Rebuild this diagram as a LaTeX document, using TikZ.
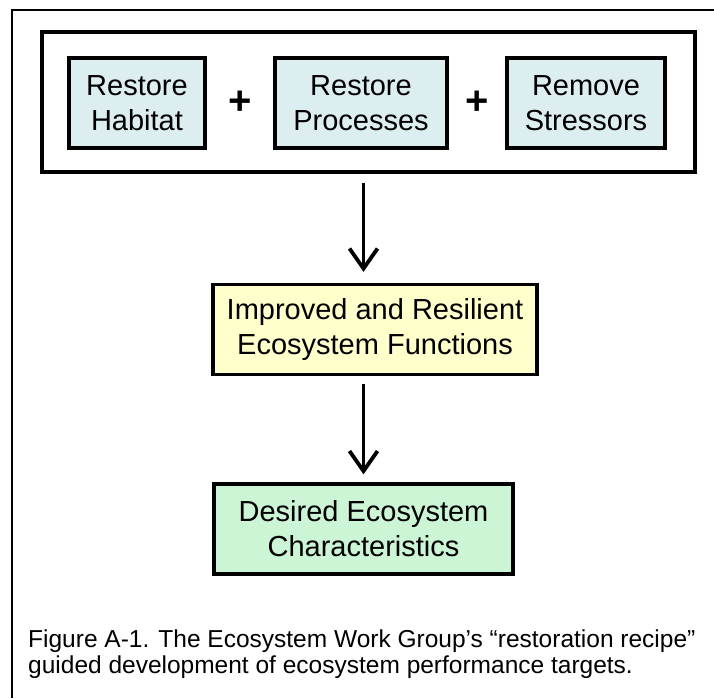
\documentclass[tikz,border=0pt]{standalone}
\usepackage{fontspec}
\setmainfont{Liberation Sans}
\usepackage{xcolor}
\usetikzlibrary{arrows.meta, positioning, calc}
\definecolor{restblue}{HTML}{DDEEF0}
\definecolor{funcyellow}{HTML}{FFFFCC}
\definecolor{chargreen}{HTML}{CCF5D5}
\tikzset{
  box/.style={draw, line width=3.3pt, minimum height=90pt, inner sep=0pt, align=center, font=\fontsize{29}{35}\selectfont},
  flow/.style={line width=3.8pt, -{Straight Barb[length=20pt, width=28pt, line width=3.8pt]}},
  caption/.style={anchor=base west, inner sep=0pt, font=\fontsize{24.5}{26}\selectfont}
}
\begin{document}
\begin{tikzpicture}[x=1pt, y=-1pt]
  \useasboundingbox (0,0) rectangle (714,698);
  % frame (cut at right and bottom)
  \draw[line width=2.5pt] (12,698) -- (12,10) -- (714,10);
  % restoration recipe
  \node[draw, line width=3.3pt, minimum width=653pt, minimum height=140pt] (recipe) at (368.5,102) {};
  \node[box, fill=restblue, minimum width=136pt] (habitat) at (137,103) {Restore\\Habitat};
  \node[box, fill=restblue, minimum width=172pt] (processes) at (361,103) {Restore\\Processes};
  \node[box, fill=restblue, minimum width=158pt] (stressors) at (586,103) {Remove\\Stressors};
  \node[font=\fontsize{40}{40}\selectfont\bfseries] (plusa) at ($(habitat.east)!0.5!(processes.west)$) {+};
  \node[font=\fontsize{40}{40}\selectfont\bfseries] (plusb) at ($(processes.east)!0.5!(stressors.west)$) {+};
  % results
  \node[box, fill=funcyellow, minimum width=324pt] (functions) at (375,329.5) {Improved and Resilient\\Ecosystem Functions};
  \node[box, fill=chargreen, minimum width=299pt] (desired) at (363.5,529) {Desired Ecosystem\\Characteristics};
  \draw[flow, shorten <=9pt, shorten >=11pt] (recipe.south -| desired.north) -- (functions.north -| desired.north);
  \draw[flow, shorten <=8pt, shorten >=8pt] (functions.south -| desired.north) -- (desired.north);
  % caption
  \node[caption] (capa) at (28,647) {Figure A-1. The Ecosystem Work Group’s “restoration recipe”};
  \node[caption] (capb) at ([yshift=-26pt]capa.base west) {guided development of ecosystem performance targets.};
\end{tikzpicture}
\end{document}
